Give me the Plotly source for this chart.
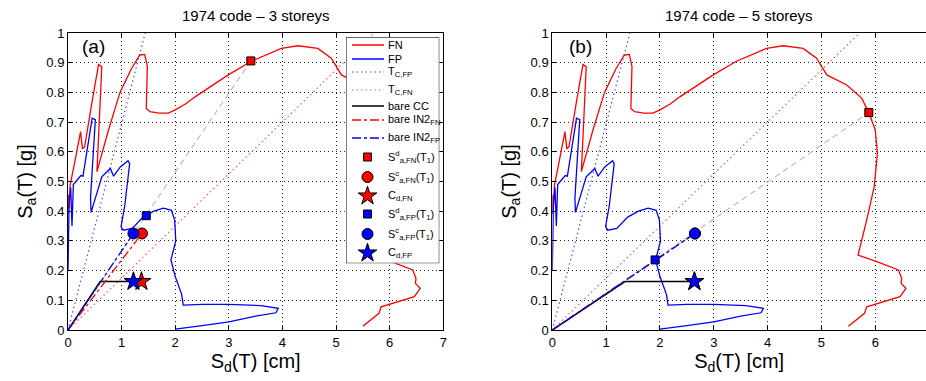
import plotly.graph_objects as go

# ---------------- data ----------------
# FN spectrum (Sd [cm], Sa [g]) - same record in both panels
FN_SD = [0.0, 0.01, 0.02, 0.04, 0.12, 0.235, 0.27, 0.31, 0.45, 0.57, 0.63, 0.54, 0.75, 0.97, 1.18,
         1.34, 1.43, 1.48, 1.46, 1.53, 1.70, 1.87, 2.0, 2.19, 2.37, 2.99, 3.42, 3.98, 4.29, 4.66,
         4.91, 5.10, 5.47, 5.75, 5.88, 6.0, 6.04, 5.98, 5.84, 5.68, 6.03, 6.43, 6.49, 6.48, 6.57,
         6.46, 5.84, 5.80, 5.50]
FN_SA = [0.39, 0.455, 0.41, 0.488, 0.56, 0.668, 0.61, 0.617, 0.77, 0.894, 0.886, 0.533, 0.67, 0.80,
         0.879, 0.926, 0.928, 0.888, 0.746, 0.735, 0.73, 0.73, 0.741, 0.761, 0.785, 0.859, 0.905,
         0.948, 0.957, 0.948, 0.915, 0.859, 0.825, 0.78, 0.732, 0.673, 0.595, 0.483, 0.37, 0.2525,
         0.23, 0.202, 0.174, 0.157, 0.14, 0.112, 0.078, 0.056, 0.013]

# FP spectrum
FP_SD = [0.0, 0.02, 0.05, 0.075, 0.10, 0.15, 0.20, 0.24, 0.28, 0.45, 0.51, 0.42, 0.43, 0.63, 0.79,
         0.85, 0.975, 1.12, 1.15, 1.06, 0.99, 1.03, 1.20, 1.40, 1.60, 1.78, 1.93, 1.99, 2.01, 1.92,
         2.0, 2.12, 2.15, 2.5, 3.0, 3.6, 3.92, 3.88, 3.5, 3.0, 2.5, 2.0]
FP_SA = [0.2, 0.42, 0.48, 0.35, 0.49, 0.502, 0.51, 0.52, 0.518, 0.713, 0.708, 0.445, 0.396, 0.516,
         0.544, 0.518, 0.549, 0.57, 0.56, 0.42, 0.348, 0.336, 0.342, 0.38, 0.40, 0.41, 0.403, 0.37,
         0.30, 0.236, 0.18, 0.12, 0.084, 0.086, 0.086, 0.082, 0.073, 0.058, 0.047, 0.027, 0.015, 0.003]

# corner-period lines (through origin)
TC_FP_SD = [0.0, 1.44]
TC_FP_SA = [0.0, 1.0]
TC_FN_SD = [0.0, 5.71]
TC_FN_SA = [0.0, 1.0]

PANEL_TITLES = ["1974 code – 3 storeys", "1974 code – 5 storeys"]
PANEL_TAGS = ["(a)", "(b)"]

# bare CC capacity curves
CC_SD = [[0.0, 0.60, 1.22], [0.0, 1.35, 2.64]]
CC_SA = [[0.0, 0.163, 0.163], [0.0, 0.163, 0.163]]

# demand / capacity points per panel
SAD_FN_SD = [3.41, 5.88]
SAD_FN_SA = [0.906, 0.732]
SAC_FN_SD = [1.38, 2.65]
SAC_FN_SA = [0.325, 0.325]
CD_FN_SD = [1.37, 2.64]
CD_FN_SA = [0.163, 0.163]
SAD_FP_SD = [1.46, 1.91]
SAD_FP_SA = [0.385, 0.236]
SAC_FP_SD = [1.22, 2.65]
SAC_FP_SA = [0.325, 0.325]
CD_FP_SD = [1.22, 2.64]
CD_FP_SA = [0.163, 0.163]

X_TICKS = [0, 1, 2, 3, 4, 5, 6, 7]
Y_TICKS = [0, 0.1, 0.2, 0.3, 0.4, 0.5, 0.6, 0.7, 0.8, 0.9, 1]
Y_TICKTEXT = ["0", "0.1", "0.2", "0.3", "0.4", "0.5", "0.6", "0.7", "0.8", "0.9", "1"]

LEGEND_LABELS = ["FN", "FP", "T<sub>C,FP</sub>", "T<sub>C,FN</sub>", "bare CC",
                 "bare IN2<sub>FN</sub>", "bare IN2<sub>FP</sub>",
                 "S<sup>d</sup><sub>a,FN</sub>(T<sub>1</sub>)",
                 "S<sup>c</sup><sub>a,FN</sub>(T<sub>1</sub>)", "C<sub>d,FN</sub>",
                 "S<sup>d</sup><sub>a,FP</sub>(T<sub>1</sub>)",
                 "S<sup>c</sup><sub>a,FP</sub>(T<sub>1</sub>)", "C<sub>d,FP</sub>"]

# ---------------- style ----------------
FONT = "Liberation Sans, Arial, Helvetica, sans-serif"
RED = "#ff0000"
BLUE = "#0000ff"
RED_DOT = "#ff5c5c"
BLUE_DOT = "#4d4dff"
GRAY = "#b8b8b8"
DOT = "1.5px,3px"

W, H = 926, 381
ML, MR, MT, MB = 68, 0, 33, 51
PW = W - ML - MR
PH = H - MT - MB

fig = go.Figure()

for p in range(2):
    xa = "x" if p == 0 else "x2"
    ya = "y" if p == 0 else "y2"
    def add(x, y, **kw):
        fig.add_trace(go.Scatter(x=x, y=y, xaxis=xa, yaxis=ya, showlegend=False,
                                 hoverinfo="skip", **kw))
    add(TC_FP_SD, TC_FP_SA, mode="lines", line=dict(color=BLUE_DOT, width=1.2, dash=DOT))
    add(TC_FN_SD, TC_FN_SA, mode="lines", line=dict(color=RED_DOT, width=1.2, dash=DOT))
    add([0, SAD_FN_SD[p]], [0, SAD_FN_SA[p]], mode="lines",
        line=dict(color=GRAY, width=1.1, dash="6px,4px"))
    add(FN_SD, FN_SA, mode="lines", line=dict(color=RED, width=1.3))
    add(FP_SD, FP_SA, mode="lines", line=dict(color=BLUE, width=1.3))
    add(CC_SD[p], CC_SA[p], mode="lines", line=dict(color="black", width=1.5))
    add([0, SAC_FN_SD[p]], [0, SAC_FN_SA[p]], mode="lines",
        line=dict(color=RED, width=1.3, dash="dashdot"))
    add([0, SAC_FP_SD[p]], [0, SAC_FP_SA[p]], mode="lines",
        line=dict(color=BLUE, width=1.3, dash="dashdot"))
    mk = dict(line=dict(color="black", width=1))
    add([SAD_FN_SD[p]], [SAD_FN_SA[p]], mode="markers",
        marker=dict(symbol="square", size=8, color=RED, **mk))
    add([SAC_FN_SD[p]], [SAC_FN_SA[p]], mode="markers",
        marker=dict(symbol="circle", size=11, color=RED, **mk))
    add([CD_FN_SD[p]], [CD_FN_SA[p]], mode="markers",
        marker=dict(symbol="star", size=14, color=RED, **mk))
    add([SAD_FP_SD[p]], [SAD_FP_SA[p]], mode="markers",
        marker=dict(symbol="square", size=8, color=BLUE, **mk))
    add([SAC_FP_SD[p]], [SAC_FP_SA[p]], mode="markers",
        marker=dict(symbol="circle", size=11, color=BLUE, **mk))
    add([CD_FP_SD[p]], [CD_FP_SA[p]], mode="markers",
        marker=dict(symbol="star", size=14, color=BLUE, **mk))

# ---------------- custom legend (overlay axes in pixel units) ----------------
LX0, LX1, LY0, LY1 = 346.0, 439.3, 37.3, 263.3
item_y = [45, 59, 72, 90, 106, 120, 138, 157, 177, 196, 214, 234, 253]
fig.add_trace(go.Scatter(x=[LX0, LX1, LX1, LX0, LX0], y=[LY0, LY0, LY1, LY1, LY0],
                         xaxis="x3", yaxis="y3", mode="lines", fill="toself",
                         fillcolor="white", line=dict(color="black", width=1),
                         showlegend=False, hoverinfo="skip"))
line_styles = [dict(color=RED, width=1.3), dict(color=BLUE, width=1.3),
               dict(color=BLUE_DOT, width=1.2, dash=DOT), dict(color=RED_DOT, width=1.2, dash=DOT),
               dict(color="black", width=1.5), dict(color=RED, width=1.3, dash="dashdot"),
               dict(color=BLUE, width=1.3, dash="dashdot")]
for i, ls in enumerate(line_styles):
    fig.add_trace(go.Scatter(x=[352, 384], y=[item_y[i], item_y[i]], xaxis="x3", yaxis="y3",
                             mode="lines", line=ls, showlegend=False, hoverinfo="skip"))
mk_styles = [("square", 8, RED), ("circle", 11, RED), ("star", 14, RED),
             ("square", 8, BLUE), ("circle", 11, BLUE), ("star", 14, BLUE)]
for j, (sym, sz, col) in enumerate(mk_styles):
    fig.add_trace(go.Scatter(x=[367.5], y=[item_y[7 + j]], xaxis="x3", yaxis="y3",
                             mode="markers",
                             marker=dict(symbol=sym, size=sz, color=col,
                                         line=dict(color="black", width=1)),
                             showlegend=False, hoverinfo="skip"))

annotations = []
for i, lab in enumerate(LEGEND_LABELS):
    annotations.append(dict(x=385.5, y=item_y[i], xref="x3", yref="y3", text=lab,
                            showarrow=False, xanchor="left", yanchor="middle",
                            font=dict(size=11, color="black", family=FONT)))

def px2fx(px):
    return (px - ML) / PW

def py2fy(py):
    return (H - MB - py) / PH

dom1 = [0.0, px2fx(443.3)]
dom2 = [px2fx(552.3), 1.0]
TAG_X = [0.22, 0.27]

for p, dom in enumerate([dom1, dom2]):
    annotations.append(dict(x=(dom[0] + dom[1]) / 2, y=py2fy(15),
                            xref="paper", yref="paper", text=PANEL_TITLES[p], showarrow=False,
                            xanchor="center", yanchor="middle",
                            font=dict(size=15, color="black", family=FONT)))
    annotations.append(dict(x=TAG_X[p], y=0.955, xref="x" if p == 0 else "x2",
                            yref="y" if p == 0 else "y2",
                            text=PANEL_TAGS[p], showarrow=False, xanchor="left",
                            yanchor="middle",
                            font=dict(size=19, color="black", family=FONT)))

axis_common = dict(showline=True, linecolor="black", linewidth=1, ticks="inside", ticklen=4,
                   tickcolor="black", showgrid=True, gridcolor="#222222", griddash="1px,3px",
                   gridwidth=1, zeroline=False, tickfont=dict(size=13, color="black", family=FONT))

xtitle = dict(text="S<sub>d</sub>(T) [cm]", font=dict(size=20, color="black", family=FONT),
              standoff=2)
ytitle = dict(text="S<sub>a</sub>(T) [g]", font=dict(size=20, color="black", family=FONT),
              standoff=8)

fig.update_layout(
    width=W, height=H, margin=dict(l=ML, r=MR, t=MT, b=MB, autoexpand=False),
    paper_bgcolor="white", plot_bgcolor="white", showlegend=False,
    font=dict(family=FONT, color="black"),
    xaxis=dict(domain=dom1, anchor="y", range=[0, 7], tickvals=X_TICKS, mirror="ticks",
               title=xtitle, **axis_common),
    yaxis=dict(domain=[0, 1], anchor="x", range=[0, 1], tickvals=Y_TICKS, ticktext=Y_TICKTEXT,
               mirror="ticks", title=ytitle, **axis_common),
    xaxis2=dict(domain=dom2, anchor="y2", range=[0, (W - 552.3) / 53.83], tickvals=X_TICKS,
                mirror="ticks", title=xtitle, **axis_common),
    yaxis2=dict(domain=[0, 1], anchor="x2", range=[0, 1], tickvals=Y_TICKS, ticktext=Y_TICKTEXT,
                mirror=False, title=ytitle, **axis_common),
    xaxis3=dict(domain=[px2fx(LX0), px2fx(LX1)], anchor="y3", range=[LX0, LX1], visible=False,
                fixedrange=True),
    yaxis3=dict(domain=[py2fy(LY1), py2fy(LY0)], anchor="x3", range=[LY1, LY0], visible=False,
                fixedrange=True),
    annotations=annotations,
)

fig.write_html("out.html", config={"displayModeBar": False},
               post_script="document.body.style.margin='0px';document.body.style.padding='0px';")
